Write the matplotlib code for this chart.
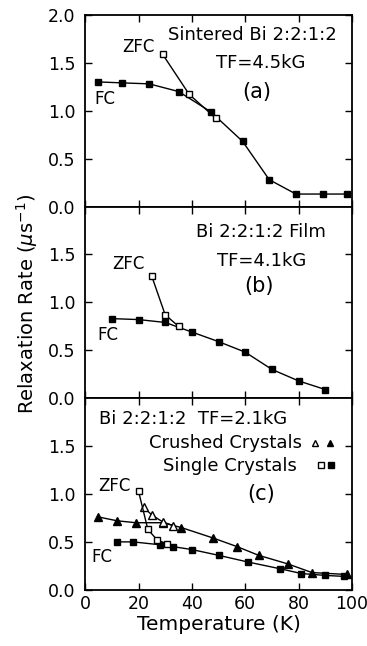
import matplotlib
matplotlib.use("Agg")
import matplotlib.pyplot as plt

# (a) sintered Bi 2:2:1:2, TF=4.5kG
a_fc_t = [5, 14, 24, 35, 47, 59, 69, 79, 89, 98]
a_fc_r = [1.30, 1.29, 1.28, 1.20, 0.99, 0.68, 0.28, 0.13, 0.13, 0.13]
a_zfc_t = [29, 39, 49]
a_zfc_r = [1.59, 1.17, 0.92]

# (b) Bi 2:2:1:2 film, TF=4.1kG
b_fc_t = [10, 20, 30, 40, 50, 60, 70, 80, 90]
b_fc_r = [0.83, 0.82, 0.79, 0.69, 0.59, 0.48, 0.30, 0.18, 0.09]
b_zfc_t = [25, 30, 35]
b_zfc_r = [1.27, 0.87, 0.75]

# (c) Bi 2:2:1:2, TF=2.1kG
c_cr_fc_t = [5, 12, 19, 29, 36, 48, 57, 65, 76, 85, 98]
c_cr_fc_r = [0.76, 0.72, 0.70, 0.70, 0.65, 0.54, 0.45, 0.36, 0.27, 0.18, 0.16]
c_cr_zfc_t = [22, 25, 29, 33]
c_cr_zfc_r = [0.86, 0.78, 0.71, 0.67]
c_sc_fc_t = [12, 18, 28, 33, 40, 50, 61, 73, 81, 90, 97]
c_sc_fc_r = [0.50, 0.50, 0.47, 0.45, 0.42, 0.36, 0.29, 0.22, 0.17, 0.15, 0.14]
c_sc_zfc_t = [20, 23.5, 27, 30.6]
c_sc_zfc_r = [1.03, 0.63, 0.52, 0.48]

x_ticks = [0, 20, 40, 60, 80, 100]
y_ticks = [0.0, 0.5, 1.0, 1.5, 2.0]

plt.rcParams['font.family'] = ['DejaVu Sans']
plt.rcParams['mathtext.fontset'] = 'dejavusans'

fig, axs = plt.subplots(3, 1, figsize=(3.67, 6.46), dpi=100, sharex=True)
fig.subplots_adjust(left=0.232, right=0.959, top=0.977, bottom=0.087, hspace=0)

ms = 4.6
for ax in axs:
    ax.set_xlim(0, 100)
    ax.set_ylim(0, 2.0)
    ax.set_xticks(x_ticks)
    ax.set_yticks(y_ticks[:-1])
    ax.tick_params(axis='x', direction='in', top=True, bottom=True, length=5, width=1, labelsize=12.5)
    ax.tick_params(axis='y', direction='in', right=True, left=True, length=5, width=1,
                   labelsize=12.5, pad=7)
    for s in ax.spines.values():
        s.set_linewidth(1.3)
axs[0].set_yticks(y_ticks)
axs[0].set_yticklabels(['%.1f' % v for v in y_ticks])

# panel (a)
ax1 = axs[0]
ax1.plot(a_fc_t, a_fc_r, 'k-', lw=1, marker='s', ms=ms, mfc='k')
ax1.plot(a_zfc_t, a_zfc_r, 'k-', lw=1, marker='s', ms=ms, mfc='white', mew=1)
ax1.text(62.5, 1.79, "Sintered Bi 2:2:1:2", fontsize=13, va='center', ha='center')
ax1.text(65.7, 1.50, "TF=4.5kG", fontsize=13, va='center', ha='center')
ax1.text(64.3, 1.20, "(a)", fontsize=15, va='center', ha='center')
ax1.text(26.2, 1.665, "ZFC", fontsize=12, va='center', ha='right')
ax1.text(7.5, 1.12, "FC", fontsize=12, va='center', ha='center')

# panel (b)
ax2 = axs[1]
ax2.plot(b_fc_t, b_fc_r, 'k-', lw=1, marker='s', ms=ms, mfc='k')
ax2.plot(b_zfc_t, b_zfc_r, 'k-', lw=1, marker='s', ms=ms, mfc='white', mew=1)
ax2.text(66, 1.73, "Bi 2:2:1:2 Film", fontsize=13, va='center', ha='center')
ax2.text(66, 1.43, "TF=4.1kG", fontsize=13, va='center', ha='center')
ax2.text(65, 1.17, "(b)", fontsize=15, va='center', ha='center')
ax2.text(16.4, 1.40, "ZFC", fontsize=12, va='center', ha='center')
ax2.text(8.4, 0.655, "FC", fontsize=12, va='center', ha='center')

# panel (c)
ax3 = axs[2]
ax3.plot(c_cr_fc_t, c_cr_fc_r, 'k-', lw=1, marker='^', ms=ms + 0.6, mfc='k')
ax3.plot(c_cr_zfc_t, c_cr_zfc_r, 'k-', lw=1, marker='^', ms=ms + 0.6, mfc='white', mew=1)
ax3.plot(c_sc_fc_t, c_sc_fc_r, 'k-', lw=1, marker='s', ms=ms, mfc='k')
ax3.plot(c_sc_zfc_t, c_sc_zfc_r, 'k-', lw=1, marker='s', ms=ms, mfc='white', mew=1)
ax3.text(40.6, 1.78, "Bi 2:2:1:2  TF=2.1kG", fontsize=13, va='center', ha='center')
ax3.text(81.2, 1.53, "Crushed Crystals", fontsize=13, va='center', ha='right')
ax3.text(79.3, 1.29, "Single Crystals", fontsize=13, va='center', ha='right')
ax3.plot([86], [1.53], marker='^', ms=ms, mfc='white', mec='k', mew=1)
ax3.plot([91.7], [1.53], marker='^', ms=ms, mfc='k', mec='k')
ax3.plot([88.5], [1.30], marker='s', ms=ms - 0.5, mfc='white', mec='k', mew=1)
ax3.plot([92], [1.30], marker='s', ms=ms - 0.5, mfc='k', mec='k')
ax3.text(66, 1.0, "(c)", fontsize=15, va='center', ha='center')
ax3.text(17.2, 1.08, "ZFC", fontsize=12, va='center', ha='right')
ax3.text(6.2, 0.34, "FC", fontsize=12, va='center', ha='center')
ax3.set_xlabel("Temperature (K)", fontsize=14.5, labelpad=2)
ax3.set_xticklabels([str(v) for v in x_ticks])

fig.text(0.075, 0.53, r"Relaxation Rate ($\mu$s$^{-1}$)", rotation=90,
         fontsize=14, va='center', ha='center')

plt.savefig("out.png", dpi=100)
